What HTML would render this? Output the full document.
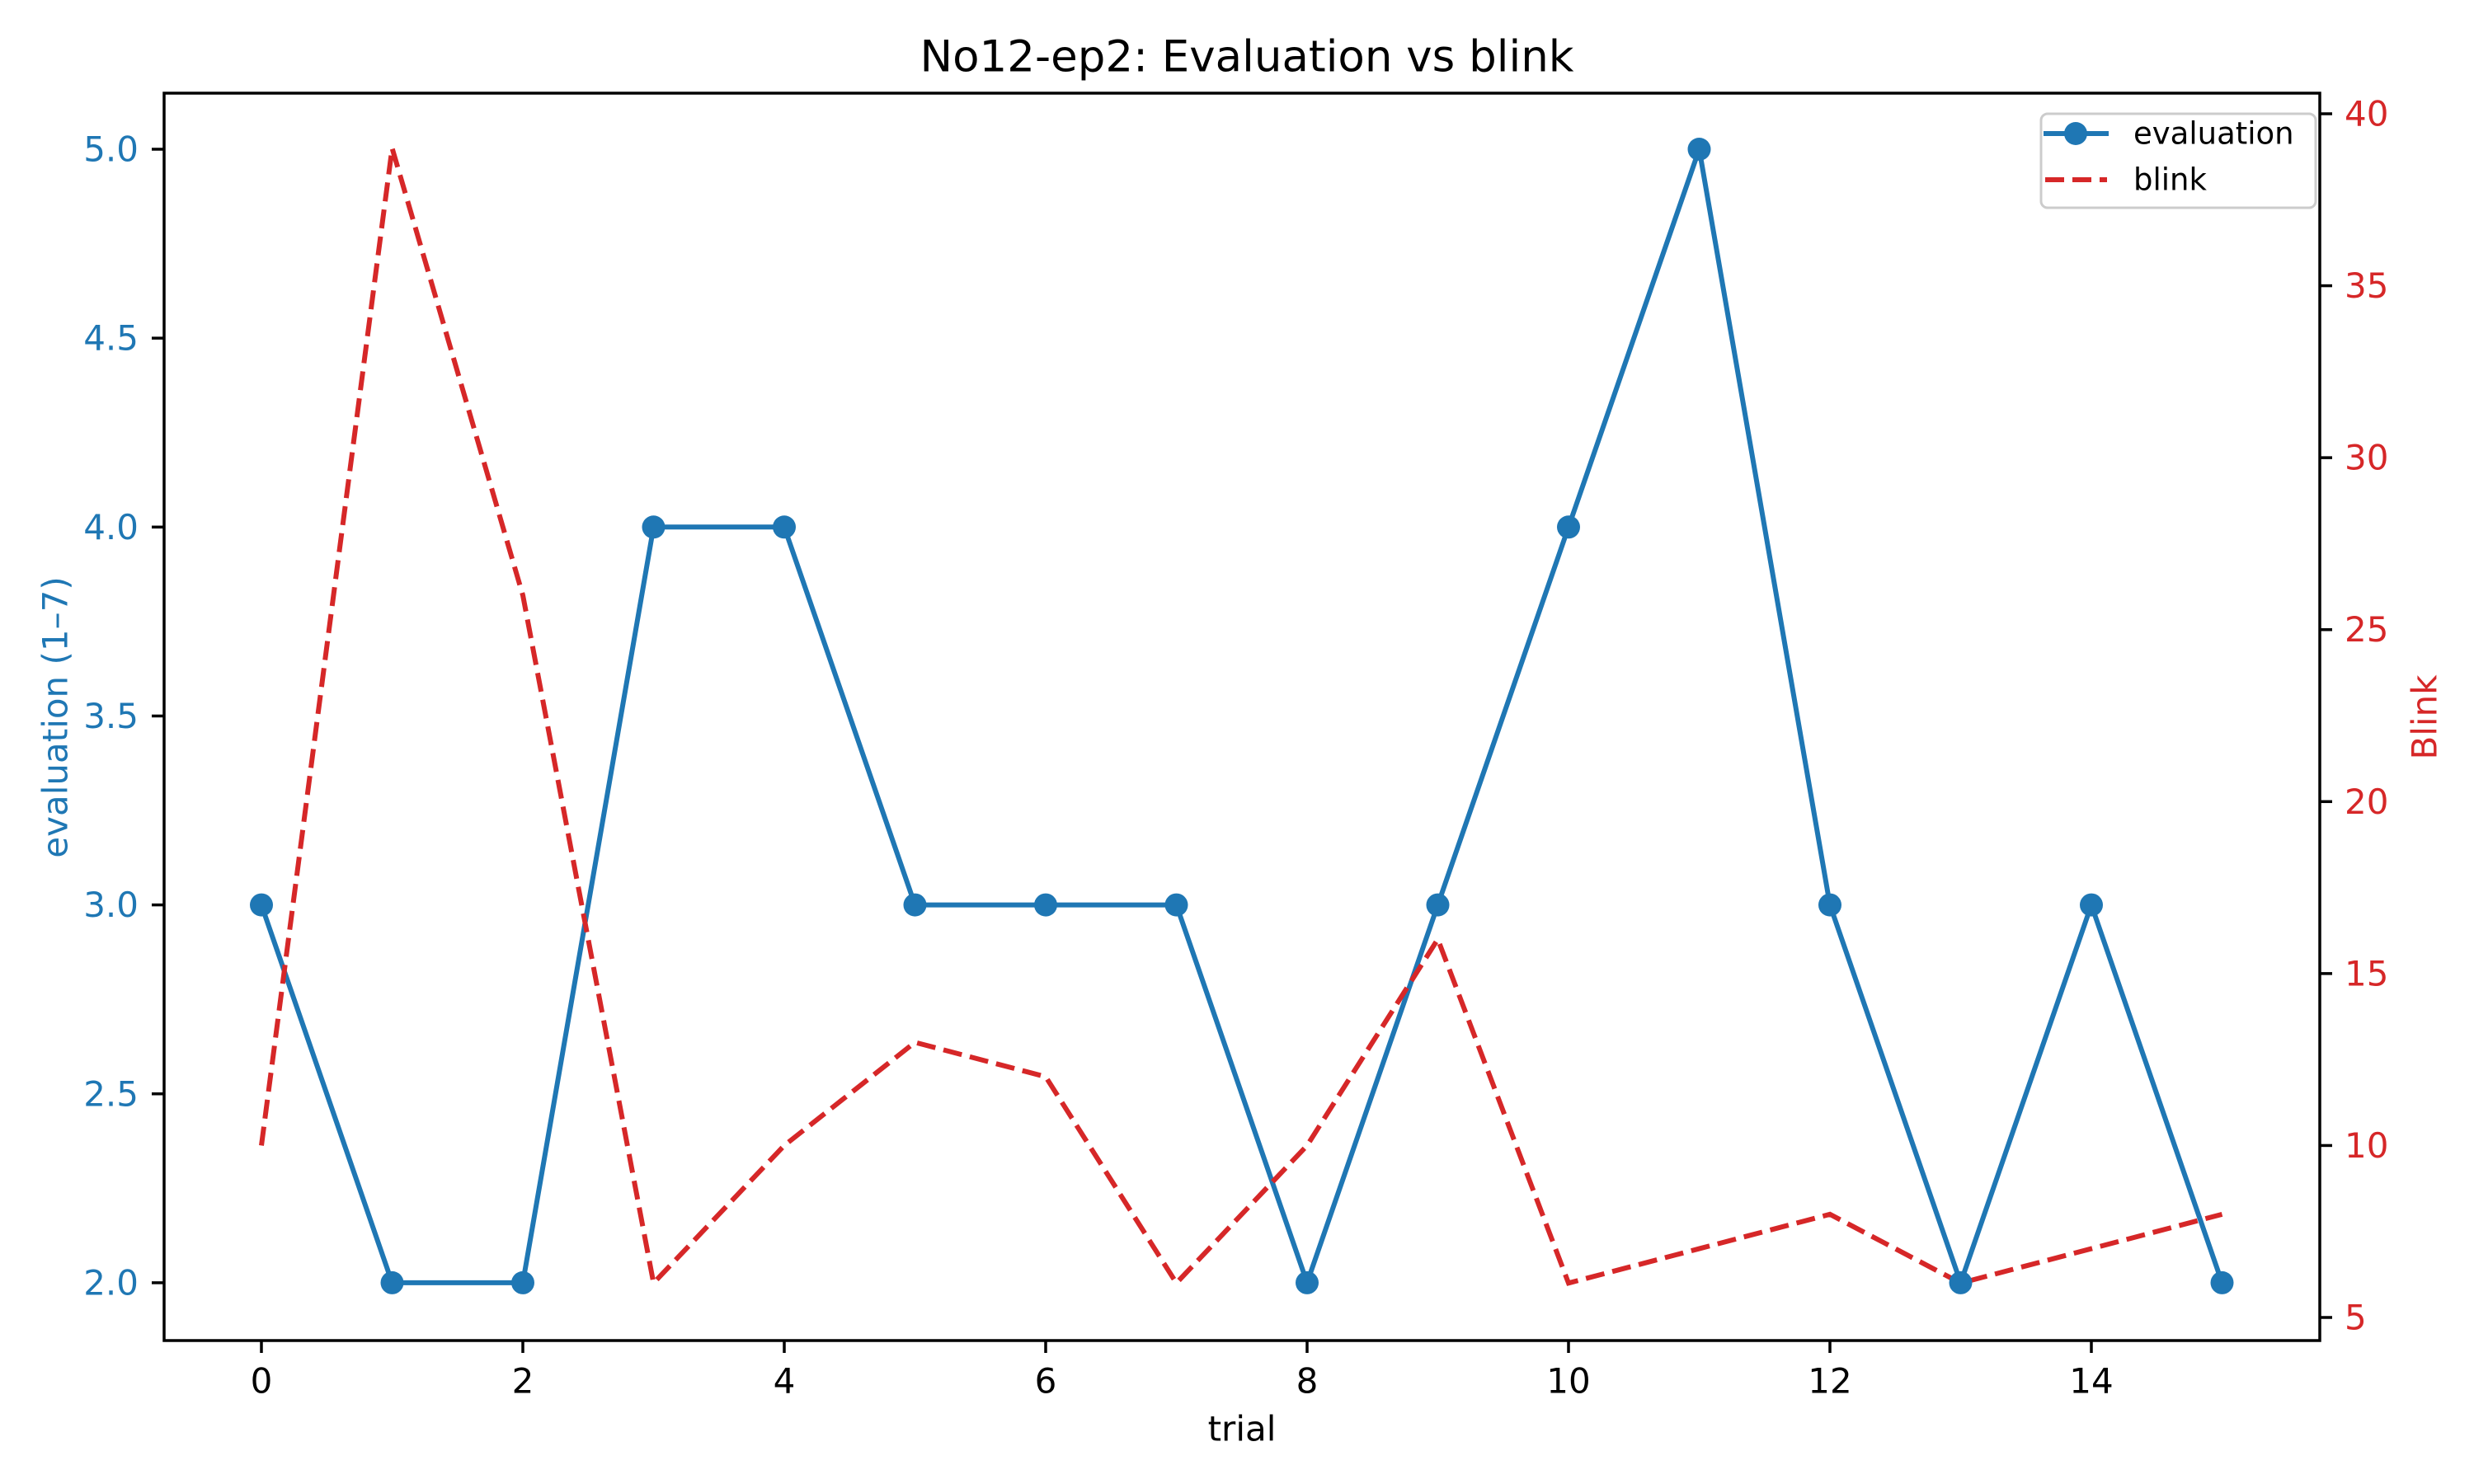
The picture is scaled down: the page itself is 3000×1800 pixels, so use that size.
<!DOCTYPE html>
<html><head><meta charset="utf-8"><style>
html,body{margin:0;padding:0;background:#fff}
svg{display:block;font-family:"DejaVu Sans","Liberation Sans",sans-serif}
</style></head><body>
<svg id="chart" width="3000" height="1800" viewBox="0 0 3000 1800" xmlns="http://www.w3.org/2000/svg">
<rect width="3000" height="1800" fill="#fff"/>
<text x="1512" y="69" font-size="53" text-anchor="middle" dominant-baseline="central">No12-ep2: Evaluation vs blink</text>
<g id="plot"></g>
<rect x="199" y="113" width="2614" height="1513" fill="none" stroke="#000" stroke-width="3.5"/>
<text x="1506" y="1733" font-size="42" text-anchor="middle" dominant-baseline="central">trial</text>
<text transform="translate(67,870) rotate(-90)" font-size="42" fill="#1f77b4" text-anchor="middle" dominant-baseline="central">evaluation (1–7)</text>
<text transform="translate(2940,870) rotate(-90)" font-size="42" fill="#d62728" text-anchor="middle" dominant-baseline="central">Blink</text>
<g>
<rect x="2475" y="138" width="333" height="114" rx="8" fill="#fff" fill-opacity="0.8" stroke="#cccccc" stroke-width="3"/>
<line x1="2478" y1="162" x2="2557" y2="162" stroke="#1f77b4" stroke-width="6"/>
<circle cx="2517" cy="162" r="14" fill="#1f77b4"/>
<text x="2587" y="162" font-size="37" dominant-baseline="central">evaluation</text>
<line x1="2480" y1="218" x2="2555" y2="218" stroke="#d62728" stroke-width="6" stroke-dasharray="23,10"/>
<text x="2587" y="218" font-size="37" dominant-baseline="central">blink</text>
</g>
</svg>
<script>
const trials = [0,1,2,3,4,5,6,7,8,9,10,11,12,13,14,15];
const evaluation = [3,2,2,4,4,3,3,3,2,3,4,5,3,2,3,2];
const blink = [10,39,26,6,10,13,12,6,10,16,6,7,8,6,7,8];
const xTicks = [0,2,4,6,8,10,12,14];
const leftTicks = [2.0,2.5,3.0,3.5,4.0,4.5,5.0];
const rightTicks = [5,10,15,20,25,30,35,40];

const NS = "http://www.w3.org/2000/svg";
const X0 = 317, XSTEP = 158.5;
function xs(t){ return X0 + t*XSTEP; }
function yl(v){ return 181 + (5 - v)*458.3; }
function yr(b){ return 1598 - (b - 5)*(1460/35); }
const svg = document.getElementById('chart');
const plot = document.getElementById('plot');
function mk(tag, attrs, parent){
  const e = document.createElementNS(NS, tag);
  for (const k in attrs) e.setAttribute(k, attrs[k]);
  (parent||svg).appendChild(e);
  return e;
}
xTicks.forEach(t => {
  const l = mk('line', {x1:xs(t), x2:xs(t), y1:1626, y2:1641, stroke:'#000', 'stroke-width':3.5});
  
  
  const tx = mk('text', {x:xs(t), y:1675, 'font-size':42, 'text-anchor':'middle', 'dominant-baseline':'central'});
  tx.textContent = t;
  
  
});
leftTicks.forEach(v => {
  const l = mk('line', {x1:184, x2:199, y1:yl(v), y2:yl(v), stroke:'#000', 'stroke-width':3.5});
  
  
  const tx = mk('text', {x:168, y:yl(v), 'font-size':42, fill:'#1f77b4', 'text-anchor':'end', 'dominant-baseline':'central'});
  tx.textContent = v.toFixed(1);
  
  
});
rightTicks.forEach(v => {
  const l = mk('line', {x1:2813, x2:2828, y1:yr(v), y2:yr(v), stroke:'#000', 'stroke-width':3.5});
  
  
  const tx = mk('text', {x:2843, y:yr(v), 'font-size':42, fill:'#d62728', 'text-anchor':'start', 'dominant-baseline':'central'});
  tx.textContent = v;
  
  
});
const ep = mk('polyline', {points: trials.map((t,i)=>xs(t)+','+yl(evaluation[i])).join(' '), fill:'none', stroke:'#1f77b4', 'stroke-width':6, 'stroke-linejoin':'round'}, plot);


const bp = mk('polyline', {points: trials.map((t,i)=>xs(t)+','+yr(blink[i])).join(' '), fill:'none', stroke:'#d62728', 'stroke-width':6, 'stroke-dasharray':'23,10'}, plot);


trials.forEach((t,i) => {
  const c = mk('circle', {cx:xs(t), cy:yl(evaluation[i]), r:14, fill:'#1f77b4'}, plot);
  
  
});
</script>
</body></html>
